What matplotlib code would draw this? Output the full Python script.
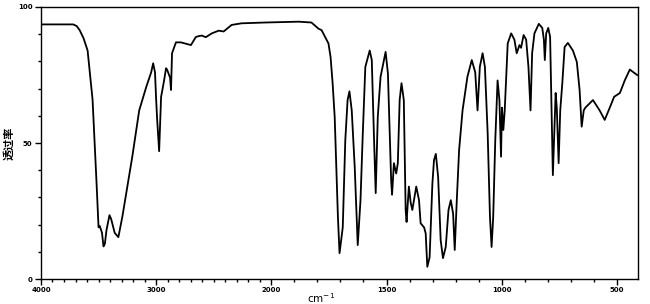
import numpy as np
import matplotlib
matplotlib.use("Agg")
import matplotlib.pyplot as plt
from matplotlib.ticker import FixedLocator, MultipleLocator

# ── Datos del espectro IR (número de onda, transmitancia %) ──────
wavenumber = [
    4000, 3800, 3720, 3690, 3664, 3630, 3595, 3552, 3517, 3500, 3490, 3470,
    3457, 3445, 3431, 3405, 3390, 3360, 3328, 3293, 3259, 3207, 3147, 3086,
    3043, 3026, 3010, 3000, 2991, 2974, 2957, 2948, 2931, 2914, 2905, 2879,
    2871, 2862, 2828, 2785, 2740, 2698, 2655, 2629, 2603, 2569, 2517, 2457,
    2414, 2345, 2259, 2052, 1882, 1826, 1795, 1782, 1760, 1752, 1743, 1734,
    1725, 1717, 1711, 1704, 1690, 1679, 1669, 1661, 1651, 1638, 1625, 1613,
    1603, 1592, 1573, 1564, 1555, 1547, 1538, 1526, 1504, 1494, 1486, 1480,
    1476, 1468, 1458, 1451, 1443, 1435, 1425, 1417, 1413, 1403, 1395, 1388,
    1371, 1359, 1352, 1337, 1330, 1323, 1313, 1301, 1294, 1286, 1276, 1265,
    1255, 1243, 1231, 1221, 1211, 1204, 1195, 1185, 1170, 1149, 1130, 1115,
    1105, 1095, 1083, 1073, 1061, 1051, 1044, 1037, 1028, 1018, 1010, 1003,
    999, 993, 987, 981, 974, 959, 945, 935, 923, 916, 905, 894,
    884, 875, 868, 858, 839, 824, 817, 813, 807, 798, 790, 783,
    778, 771, 766, 761, 753, 746, 737, 727, 713, 691, 674, 662,
    653, 644, 637, 604, 575, 553, 531, 512, 487, 466, 444, 422, 412,
]
transmittance = [
    93.6, 93.6, 93.6, 93.0, 91.5, 88.5, 84.0, 66.0, 35.0, 19.0, 19.5, 17.0,
    12.0, 13.0, 18.0, 23.5, 22.0, 17.0, 15.4, 23.0, 31.6, 45.0, 62.0, 70.6,
    76.0, 79.3, 76.0, 66.0, 58.5, 47.0, 67.0, 69.0, 73.0, 77.5, 77.0, 74.0,
    69.5, 83.0, 87.0, 87.0, 86.5, 86.0, 89.0, 89.3, 89.5, 88.9, 90.3, 91.3,
    91.0, 93.4, 94.0, 94.3, 94.6, 94.3, 92.0, 91.5, 87.9, 86.6, 81.7, 72.0,
    59.6, 38.0, 22.8, 9.5, 19.0, 51.0, 65.8, 69.0, 62.0, 41.0, 12.5, 29.0,
    53.6, 78.0, 84.0, 80.5, 53.6, 31.6, 59.6, 74.3, 83.5, 75.6, 53.6, 36.4,
    31.0, 42.6, 38.8, 42.6, 65.8, 72.0, 65.8, 25.4, 21.0, 34.0, 28.0, 25.4,
    34.0, 29.0, 20.5, 19.0, 16.8, 4.5, 8.0, 35.0, 43.7, 46.0, 37.5, 14.3,
    7.7, 11.8, 25.4, 29.0, 24.0, 10.7, 29.0, 47.4, 62.0, 74.3, 80.5, 76.0,
    62.0, 78.0, 83.0, 78.0, 53.6, 22.8, 11.8, 22.8, 51.0, 73.0, 65.8, 45.0,
    63.0, 54.8, 62.0, 73.0, 86.6, 90.3, 88.0, 83.0, 86.0, 85.0, 89.7, 88.0,
    78.0, 62.0, 83.0, 90.3, 93.8, 92.3, 88.0, 80.5, 90.3, 92.3, 89.0, 59.6,
    38.2, 56.0, 68.4, 63.0, 42.6, 62.0, 72.0, 85.3, 86.8, 84.0, 79.8, 69.5,
    56.0, 62.0, 63.0, 65.8, 62.0, 58.5, 63.0, 67.0, 68.4, 73.0, 77.0, 75.6, 75.0,
]
x_ticks = [4000, 3000, 2000, 1500, 1000, 500]
x_tick_labels = ["4000", "3000", "2000", "1500", "1000", "500"]
y_ticks = [0, 50, 100]
y_tick_labels = ["0", "50", "100"]


# ── Escala del eje x: mitad de escala por encima de 2000 cm-1 ─────
def fwd(w):
    w = np.asarray(w, dtype=float)
    return np.where(w > 2000, 2000 + (w - 2000) / 2, w)


def inv(u):
    u = np.asarray(u, dtype=float)
    return np.where(u > 2000, 2000 + (u - 2000) * 2, u)


fig = plt.figure(figsize=(6.5, 3.04), dpi=100)
ax = fig.add_axes([0.063, 0.082, 0.918, 0.895])
ax.plot(wavenumber, transmittance, color="black", lw=1.3)

ax.set_xscale("function", functions=(fwd, inv))
ax.set_xlim(4000, 410)
ax.set_ylim(0, 100)

ax.xaxis.set_major_locator(FixedLocator(x_ticks))
ax.set_xticklabels(x_tick_labels)
ax.xaxis.set_minor_locator(FixedLocator(np.arange(500, 4000, 100)))
ax.set_yticks(y_ticks)
ax.set_yticklabels(y_tick_labels)
ax.yaxis.set_minor_locator(MultipleLocator(10))

ax.tick_params(which="major", direction="out", length=4, width=1, labelsize=5, pad=2)
ax.tick_params(which="minor", direction="out", length=2.5, width=1)
for lab in ax.get_xticklabels() + ax.get_yticklabels():
    lab.set_fontweight("bold")
for s in ax.spines.values():
    s.set_linewidth(1.0)

ax.set_xlabel("cm$^{-1}$", fontsize=7.5, labelpad=0)
ax.xaxis.set_label_coords(0.47, -0.045)
ax.set_ylabel("透过率", fontsize=8, fontweight="bold",
              family=["Noto Sans CJK SC", "DejaVu Sans"], labelpad=2)

fig.savefig("out.png", dpi=100)
